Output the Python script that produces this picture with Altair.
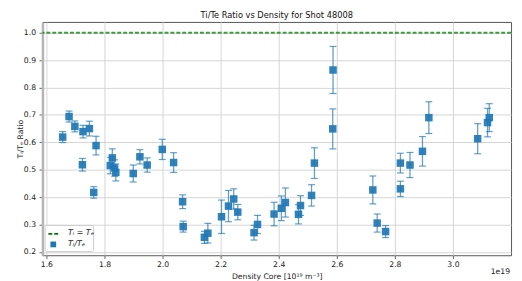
import altair as alt
import pandas as pd

density = [1.656, 1.678, 1.698, 1.726, 1.748, 1.771, 1.724, 1.763, 1.827, 1.820, 1.835, 1.839,
           1.899, 1.922, 1.947, 1.999, 2.038, 2.069, 2.071, 2.144, 2.156, 2.203, 2.227, 2.245,
           2.259, 2.315, 2.327, 2.384, 2.409, 2.423, 2.468, 2.475, 2.513, 2.523, 2.587, 2.586,
           2.724, 2.739, 2.768, 2.819, 2.819, 2.852, 2.895, 2.917, 3.085, 3.119, 3.125]
ratio = [0.619, 0.694, 0.658, 0.639, 0.650, 0.588, 0.518, 0.417, 0.543, 0.515, 0.506, 0.490,
         0.486, 0.547, 0.517, 0.574, 0.526, 0.383, 0.292, 0.253, 0.268, 0.328, 0.367, 0.393,
         0.345, 0.270, 0.300, 0.338, 0.359, 0.380, 0.337, 0.369, 0.406, 0.524, 0.864, 0.649,
         0.426, 0.305, 0.274, 0.524, 0.430, 0.517, 0.567, 0.690, 0.613, 0.672, 0.690]
ratio_err = [0.020, 0.020, 0.020, 0.023, 0.027, 0.034, 0.023, 0.021, 0.033, 0.030, 0.030, 0.031,
             0.031, 0.026, 0.026, 0.037, 0.036, 0.025, 0.020, 0.022, 0.036, 0.061, 0.057, 0.037,
             0.028, 0.027, 0.033, 0.043, 0.045, 0.053, 0.035, 0.036, 0.039, 0.056, 0.086, 0.073,
             0.051, 0.033, 0.022, 0.036, 0.028, 0.046, 0.054, 0.058, 0.055, 0.052, 0.051]
x_ticks = [1.6, 1.8, 2.0, 2.2, 2.4, 2.6, 2.8, 3.0]
y_ticks = [0.2, 0.3, 0.4, 0.5, 0.6, 0.7, 0.8, 0.9, 1.0]
equal_line = [1.0]
legend_labels = ["Tᵢ = Tₑ", "Tᵢ/Tₑ"]

df = pd.DataFrame({"x": density, "y": ratio, "err": ratio_err})
df["lo"] = df["y"] - df["err"]
df["hi"] = df["y"] + df["err"]

FONT = "DejaVu Sans"
BLUE = "#1f77b4"
W, H = 476, 237

xs = alt.Scale(domain=[1.5864, 3.2], nice=False, zero=False)
ys = alt.Scale(domain=[0.1875, 1.0395], nice=False, zero=False)
xaxis = alt.Axis(values=x_ticks, format=".1f", title="Density Core [10¹⁹ m⁻³]")
yaxis = alt.Axis(values=y_ticks, format=".1f", title="Tᵢ/Tₑ Ratio",
                 titleX=-18, titleY=H / 2, titleAngle=270, titleBaseline="bottom",
                 titleAlign="center")

def X(f):
    return alt.X(f, type="quantitative", scale=xs, axis=xaxis)

def Y(f):
    return alt.Y(f, type="quantitative", scale=ys, axis=yaxis)

ref = alt.Chart(pd.DataFrame({"y": equal_line})).mark_rule(
    color="green", strokeDash=[4, 2], strokeWidth=2, opacity=0.75
).encode(y=Y("y"))

base = alt.Chart(df)
bars = base.mark_rule(color=BLUE, strokeWidth=1.3, opacity=0.7).encode(
    x=X("x"), y=Y("lo"), y2="hi")
cap_lo = base.mark_tick(color=BLUE, orient="horizontal", size=7, thickness=1.2, opacity=0.7).encode(
    x=X("x"), y=Y("lo"))
cap_hi = base.mark_tick(color=BLUE, orient="horizontal", size=7, thickness=1.2, opacity=0.7).encode(
    x=X("x"), y=Y("hi"))
pts = base.mark_square(color=BLUE, size=58, opacity=0.92).encode(x=X("x"), y=Y("y"))

# legend
one = pd.DataFrame({"a": [0]})
leg_box = alt.Chart(one).mark_rect(
    fill="white", fillOpacity=0.85, stroke="#cccccc", strokeWidth=1, cornerRadius=2
).encode(x=alt.value(2.7), x2=alt.value(52), y=alt.value(206.7), y2=alt.value(233.3))
leg_line = alt.Chart(one).mark_rule(color="green", strokeDash=[4, 2], strokeWidth=2).encode(
    x=alt.value(6), x2=alt.value(18), y=alt.value(215.3))
leg_sq = alt.Chart(one).mark_square(color=BLUE, size=34, opacity=1).encode(
    x=alt.value(11), y=alt.value(226))
leg_t1 = alt.Chart(pd.DataFrame({"t": [legend_labels[0]]})).mark_text(
    font=FONT, fontSize=8, fontStyle="italic", align="left", baseline="middle", color="#222"
).encode(x=alt.value(26), y=alt.value(214.8), text="t:N")
leg_t2 = alt.Chart(pd.DataFrame({"t": [legend_labels[1]]})).mark_text(
    font=FONT, fontSize=8, fontStyle="italic", align="left", baseline="middle", color="#222"
).encode(x=alt.value(26), y=alt.value(226), text="t:N")

offset_txt = alt.Chart(pd.DataFrame({"t": ["1e19"]})).mark_text(
    font=FONT, fontSize=7.8, align="right", baseline="middle", color="#222"
).encode(x=alt.value(W - 1), y=alt.value(H + 17), text="t:N")

chart = alt.layer(ref, bars, cap_lo, cap_hi, pts, leg_box, leg_line, leg_sq, leg_t1, leg_t2, offset_txt).properties(
    width=W, height=H,
    title=alt.Title("Ti/Te Ratio vs Density for Shot 48008", font=FONT, fontSize=8.4,
                    fontWeight="normal", color="#111", anchor="middle", offset=3),
    autosize=alt.AutoSizeParams(type="none"),
    padding={"left": 35, "top": 12, "right": 3, "bottom": 24},
).configure_view(
    stroke="#555555", strokeWidth=1
).configure_axis(
    labelFont=FONT, titleFont=FONT, labelFontSize=7.8, titleFontSize=7.8,
    labelColor="#222", titleColor="#222", titleFontWeight="normal",
    tickColor="#444", tickSize=3.5, tickWidth=0.8,
    gridColor="#d5d5d5", gridWidth=1, domain=False
).configure_axisX(
    labelPadding=1.5, titlePadding=4.5
).configure_axisY(
    labelPadding=3.5, domain=True, domainColor="#b5b5b5", domainWidth=2.5
)

chart.save("out.html", embed_options={"renderer": "svg", "actions": False})
